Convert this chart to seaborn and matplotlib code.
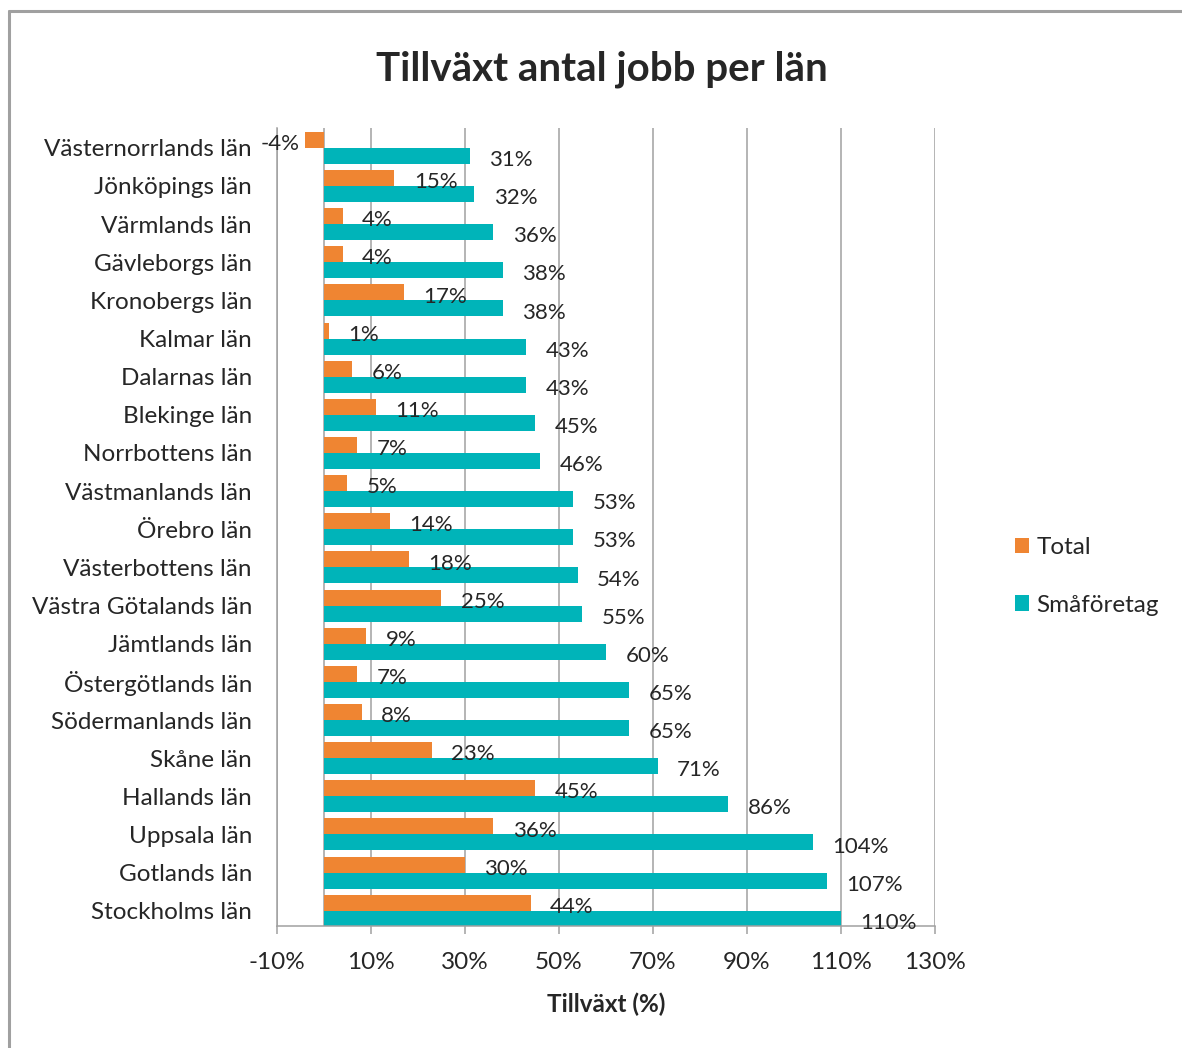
# -*- coding: utf-8 -*-

### Tillväxt antal jobb per län ###

import pandas as pd
import matplotlib.pyplot as plt
import seaborn as sns
from matplotlib.patches import Patch
from matplotlib.lines import Line2D

sns.set_theme(style="white")
plt.rcParams['font.family'] = ['Lato', 'DejaVu Sans']

### Data ###

Lan = ["Västernorrlands län", "Jönköpings län", "Värmlands län", "Gävleborgs län",
       "Kronobergs län", "Kalmar län", "Dalarnas län", "Blekinge län",
       "Norrbottens län", "Västmanlands län", "Örebro län", "Västerbottens län",
       "Västra Götalands län", "Jämtlands län", "Östergötlands län",
       "Södermanlands län", "Skåne län", "Hallands län", "Uppsala län",
       "Gotlands län", "Stockholms län"]
Total = [-4, 15, 4, 4, 17, 1, 6, 11, 7, 5, 14, 18, 25, 9, 7, 8, 23, 45, 36, 30, 44]
Smaforetag = [31, 32, 36, 38, 38, 43, 43, 45, 46, 53, 53, 54, 55, 60, 65, 65, 71, 86, 104, 107, 110]
Series = ["Total", "Småföretag"]
Colors = ["#EF8532", "#00B4B9"]
Xticks = [-10, 10, 30, 50, 70, 90, 110, 130]

df = pd.DataFrame({
    "Län": Lan * 2,
    "Tillväxt": Total + Smaforetag,
    "Serie": [Series[0]] * len(Lan) + [Series[1]] * len(Lan),
})

### Plot ###

fig = plt.figure(figsize=(11.82, 10.48), dpi=100)
ax = fig.add_axes([0.2343, 0.1164, 0.5567, 0.7615])

sns.barplot(data=df, y="Län", x="Tillväxt", hue="Serie", hue_order=Series,
            palette=Colors, orient="h", width=0.84, gap=0, saturation=1,
            linewidth=0, ax=ax, legend=False)

ax.set_xlim(-10, 130)
ax.set_ylim(len(Lan) - 0.6, -0.52)
ax.set_xticks(Xticks)
ax.set_xticklabels(["{}%".format(t) for t in Xticks], fontsize=17.5)
ax.tick_params(axis='x', length=6, width=1.1, color='#A0A0A0', pad=13, direction='out', bottom=True)
ax.tick_params(axis='y', length=0, pad=18, labelsize=17.5)
ax.grid(axis='x', color='#A0A0A0', linewidth=1.1)
ax.set_axisbelow(True)
ax.axvline(0, color='#A0A0A0', linewidth=1.1, zorder=0.5)
for side in ['top', 'right']:
    ax.spines[side].set_visible(False)
for side in ['left', 'bottom']:
    ax.spines[side].set_color('#A0A0A0')
    ax.spines[side].set_linewidth(1.1)
ax.set_ylabel("")
ax.set_xlabel("Tillväxt (%)", fontsize=17.5, fontweight='bold', labelpad=14)

# data labels
for container in ax.containers:
    for patch in container:
        val = patch.get_width()
        yc = patch.get_y() + patch.get_height() / 2
        if val >= 0:
            ax.annotate("{:.0f}%".format(val), xy=(val, yc), xytext=(14, -3),
                        textcoords='offset points', ha='left', va='center', fontsize=16)
        else:
            ax.annotate("{:.0f}%".format(val), xy=(val, yc), xytext=(-4, -3),
                        textcoords='offset points', ha='right', va='center', fontsize=16)

fig.suptitle("Tillväxt antal jobb per län", x=0.509, y=0.952, fontsize=29, fontweight='bold')

handles = [Patch(facecolor=c, edgecolor='none') for c in Colors]
fig.legend(handles, Series, loc='center left', bbox_to_anchor=(0.84, 0.45),
           frameon=False, fontsize=17.5, handlelength=0.6, handleheight=0.6,
           handletextpad=0.3, labelspacing=1.5)

# chart border
fig.add_artist(Line2D([0.0072, 0.0072], [0, 0.9895], color='#A0A0A0', linewidth=2.2, transform=fig.transFigure))
fig.add_artist(Line2D([0.0072, 1], [0.9895, 0.9895], color='#A0A0A0', linewidth=2.2, transform=fig.transFigure))

plt.savefig("out.png", dpi=100)
